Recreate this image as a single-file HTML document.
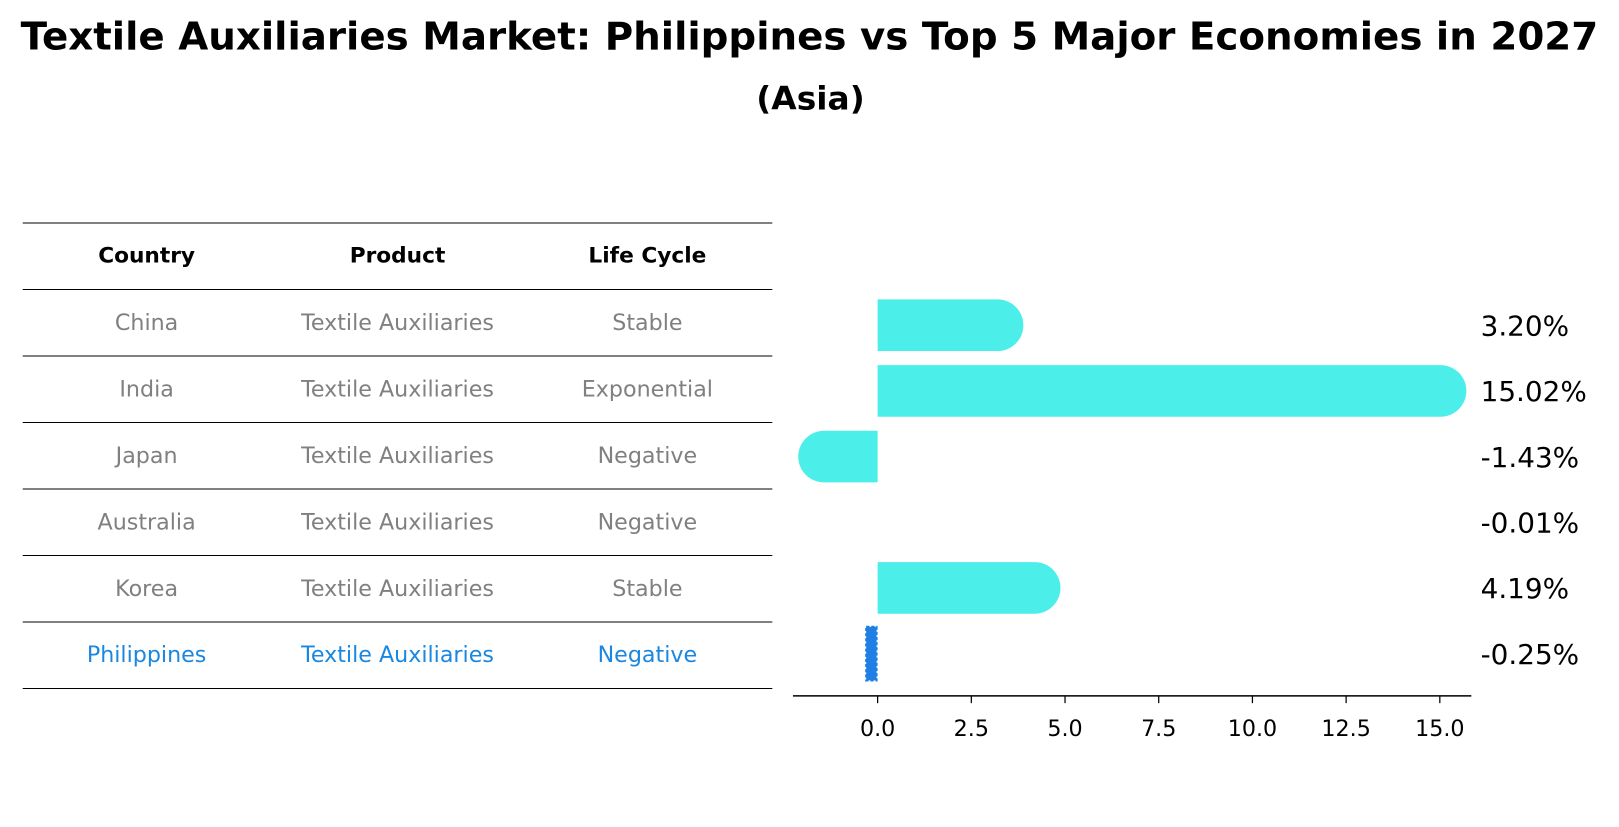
<!DOCTYPE html>
<html><head><meta charset="utf-8"><style>
body{margin:0;background:#fff;font-family:"DejaVu Sans","Liberation Sans",sans-serif;}
</style></head><body>
<svg width="1619" height="823" xmlns="http://www.w3.org/2000/svg" font-family="DejaVu Sans, Liberation Sans, sans-serif">
<g transform="scale(1.0325)">
<text x="784" y="48" text-anchor="middle" font-size="37" font-weight="bold" textLength="1528" lengthAdjust="spacingAndGlyphs">Textile Auxiliaries Market: Philippines vs Top 5 Major Economies in 2027</text>
<text x="785" y="106" text-anchor="middle" font-size="31" font-weight="bold" textLength="105" lengthAdjust="spacingAndGlyphs">(Asia)</text>
<g id="table"></g>
<g id="bars"></g>
</g>
</svg>
<script>
const countries=["China","India","Japan","Australia","Korea","Philippines"];
const products=["Textile Auxiliaries","Textile Auxiliaries","Textile Auxiliaries","Textile Auxiliaries","Textile Auxiliaries","Textile Auxiliaries"];
const lifeCycles=["Stable","Exponential","Negative","Negative","Stable","Negative"];
const growth=[3.20,15.02,-1.43,-0.01,4.19,-0.25];
const xTicks=[0,2.5,5,7.5,10,12.5,15];
const NS="http://www.w3.org/2000/svg";
function mk(tag,attrs,parent){const e=document.createElementNS(NS,tag);for(const k in attrs)e.setAttribute(k,attrs[k]);parent.appendChild(e);return e;}
const tbl=document.getElementById('table');
const lineY=r=>216+r*64.4;
const colX=[142,385,627];
for(let r=0;r<=countries.length+1;r++){
  const l=mk('line',{x1:22,x2:748,y1:lineY(r),y2:lineY(r),stroke:'#000','stroke-width':1},tbl);
  
  
}
["Country","Product","Life Cycle"].forEach((h,i)=>{
  const t=mk('text',{x:colX[i],y:lineY(0)+38,'text-anchor':'middle','font-size':21,'font-weight':'bold'},tbl);
  t.textContent=h;
  
  
});
countries.forEach((c,r)=>{
  const last=r===countries.length-1;
  [c,products[r],lifeCycles[r]].forEach((v,i)=>{
    const t=mk('text',{x:colX[i],y:lineY(r+1)+39,'text-anchor':'middle','font-size':21.5,fill:last?'#1a87e0':'#808080'},tbl);
    t.textContent=v;
    
    
  });
});
const g=document.getElementById('bars');
const x=v=>850+v*36.3;
const yC=i=>315+i*63.6;
const bh=50, R=25;
growth.forEach((v,i)=>{
  const cy=yC(i);
  if(i===countries.length-1){
    const b=mk('rect',{x:Math.min(x(v),x(0))-2,y:cy-26,width:Math.max(Math.abs(x(v)-x(0)),4)+1,height:52,fill:'#1f7fe5',stroke:'#1f7fe5','stroke-width':2,'stroke-dasharray':'3,2'},g);
    
    
  } else if(Math.abs(v)>0.05){
    const x0=x(0),x1=x(v);let d;
    if(v>0){d=`M${x0},${cy-bh/2} H${x1} A${R},${R} 0 0 1 ${x1},${cy+bh/2} H${x0} Z`;}
    else{d=`M${x0},${cy-bh/2} H${x1} A${R},${R} 0 0 0 ${x1},${cy+bh/2} H${x0} Z`;}
    const p=mk('path',{d:d,fill:'#4ceeea'},g);
    
    
  }
  const t=mk('text',{x:1434,y:cy+10,'font-size':27},g);
  t.textContent=v.toFixed(2)+'%';
  
  
});
const ax=mk('line',{x1:768,x2:1425,y1:674,y2:674,stroke:'#000','stroke-width':1.5},g);


xTicks.forEach(v=>{
  const tk=mk('line',{x1:x(v),x2:x(v),y1:674,y2:681,stroke:'#000','stroke-width':1.2},g);
  
  
  const t=mk('text',{x:x(v),y:713,'text-anchor':'middle','font-size':21.5},g);
  t.textContent=v.toFixed(1);
  
  
});
</script>
</body></html>
